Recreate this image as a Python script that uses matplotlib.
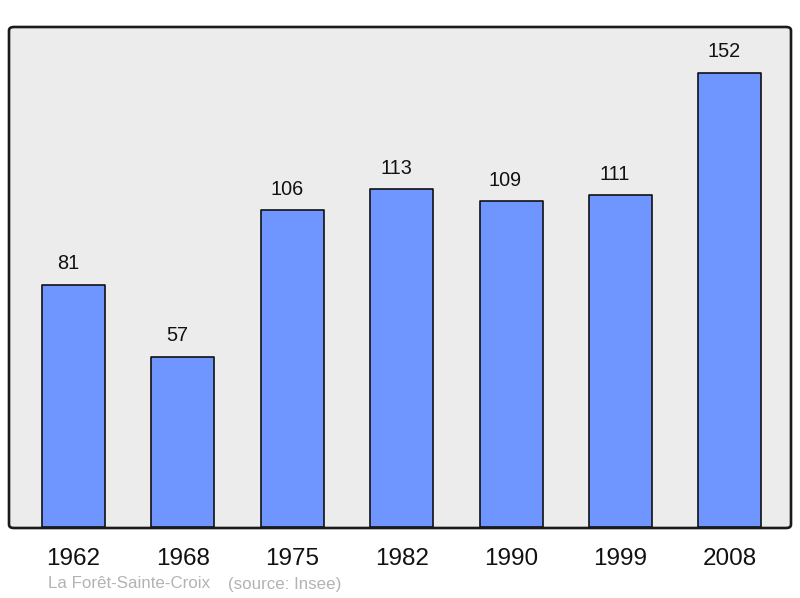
import matplotlib
matplotlib.use("Agg")
import matplotlib.pyplot as plt
from matplotlib.patches import FancyBboxPatch

years = ["1962", "1968", "1975", "1982", "1990", "1999", "2008"]
population = [81, 57, 106, 113, 109, 111, 152]
title_text = "La Forêt-Sainte-Croix"
source_text = "(source: Insee)"

plt.rcParams['font.family'] = ['Liberation Sans', 'DejaVu Sans']

fig = plt.figure(figsize=(8, 5.98), dpi=100)
W, H = 800, 598
left, right, top, bottom = 9, 791, 27, 527
ax = fig.add_axes([left / W, 1 - bottom / H, (right - left) / W, (bottom - top) / H])
ax.set_facecolor('none')
for s in ax.spines.values():
    s.set_visible(False)

frame = FancyBboxPatch((left / W, 1 - (bottom + 1) / H), (right - left) / W, (bottom + 1 - top) / H,
                       boxstyle="round,pad=0,rounding_size=0.006", transform=fig.transFigure,
                       facecolor='#ececec', edgecolor='#1a1a1a', linewidth=1.9, zorder=0, clip_on=False)
ax.add_patch(frame)

x = list(range(len(years)))
bars = ax.bar(x, population, width=0.576, color='#6f96ff', edgecolor='#111111', linewidth=1.2, zorder=2)
for bar in bars:
    bar.set_joinstyle('round')
for xi, v in zip(x, population):
    ax.annotate(str(v), (xi, v), xytext=(-4, 15.4), textcoords='offset points', ha='center', va='center',
                fontsize=14.3, color='#111111', zorder=3)

ax.set_xlim(-0.59, 6.56)
ax.set_ylim(0, 167.4)
ax.set_yticks([])
ax.set_xticks(x)
ax.set_xticklabels(years, fontsize=17.5, color='#111111')
ax.tick_params(axis='x', length=0, pad=15)

fig.text(48 / W, 1 - 584 / H, title_text, fontsize=12.2, color='#b3b3b3', ha='left', va='center')
fig.text(228 / W, 1 - 584 / H, source_text, fontsize=12.2, color='#b3b3b3', ha='left', va='center')

fig.savefig('out.png', dpi=100)
